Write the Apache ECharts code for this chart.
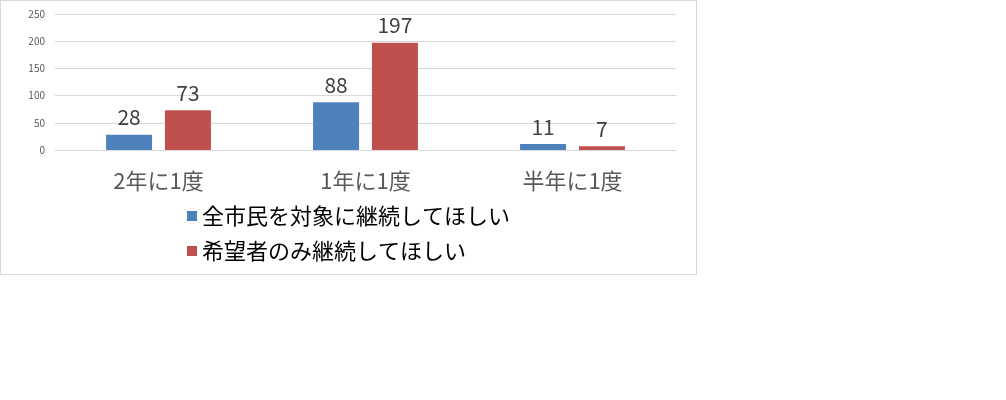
<!DOCTYPE html>
<html><head><meta charset="utf-8">
<script src="https://cdn.jsdelivr.net/npm/echarts@6/dist/echarts.min.js"></script>
<style>
html,body{margin:0;padding:0;background:#fff;width:1006px;height:400px;overflow:hidden}
#wrap{position:absolute;left:0;top:0;width:695px;height:273px;border:1px solid #d9d9d9}
#c{width:695px;height:273px}
</style></head><body>
<div id="wrap"><div id="c"></div></div>
<script>
const categories = ['2年に1度', '1年に1度', '半年に1度'];
const seriesNames = ['全市民を対象に継続してほしい', '希望者のみ継続してほしい'];
const allCitizens = [28, 88, 11];
const applicantsOnly = [73, 197, 7];
const yTicks = [0, 50, 100, 150, 200, 250];

const font = '"Noto Sans CJK JP", "Noto Sans", sans-serif';
const chart = echarts.init(document.getElementById('c'));
chart.setOption({
  animation: false,
  textStyle: {fontFamily: font},
  grid: {left: 54, right: 20, top: 13, bottom: 124, containLabel: false},
  legend: {
    orient: 'vertical', left: 181, top: 199,
    itemWidth: 10, itemHeight: 10, itemGap: 13,
    icon: 'rect',
    textStyle: {fontSize: 22, color: '#000', fontFamily: font},
    data: seriesNames
  },
  xAxis: {
    type: 'category', data: categories,
    axisLine: {lineStyle: {color: '#d9d9d9'}},
    axisTick: {show: false},
    axisLabel: {fontSize: 22, color: '#595959', margin: 20, fontFamily: font}
  },
  yAxis: {
    type: 'value', min: yTicks[0], max: yTicks[yTicks.length - 1], interval: 50,
    axisLine: {show: false}, axisTick: {show: false},
    axisLabel: {fontSize: 10, color: '#595959', margin: 10, fontFamily: font},
    splitLine: {lineStyle: {color: '#d9d9d9'}}
  },
  series: [
    {name: seriesNames[0], type: 'bar', data: allCitizens, barWidth: 46, barGap: '28%',
     itemStyle: {color: '#4f81bd'},
     label: {show: true, position: 'top', fontSize: 21, color: '#404040', distance: 7, fontFamily: font}},
    {name: seriesNames[1], type: 'bar', data: applicantsOnly, barWidth: 46,
     itemStyle: {color: '#c0504d'},
     label: {show: true, position: 'top', fontSize: 21, color: '#404040', distance: 7, fontFamily: font}}
  ]
});
</script>
</body></html>
